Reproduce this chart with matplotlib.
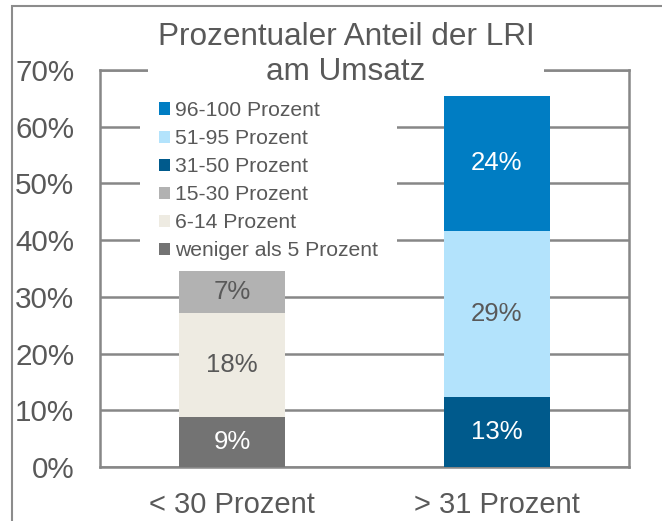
import matplotlib
matplotlib.use("Agg")
import matplotlib.pyplot as plt
from matplotlib.patches import Patch, Rectangle
from matplotlib.ticker import FuncFormatter, MultipleLocator

plt.rcParams['font.family'] = ['Liberation Sans', 'DejaVu Sans']

# ---- data ----
categories = ["< 30 Prozent", "> 31 Prozent"]
series_names = ["weniger als 5 Prozent", "6-14 Prozent", "15-30 Prozent",
                "31-50 Prozent", "51-95 Prozent", "96-100 Prozent"]
weniger_5 = [8.8, 0.0]
p6_14 = [18.3, 0.0]
p15_30 = [7.4, 0.0]
p31_50 = [0.0, 12.4]
p51_95 = [0.0, 29.3]
p96_100 = [0.0, 23.7]
series_values = [weniger_5, p6_14, p15_30, p31_50, p51_95, p96_100]
segment_labels = [["9%", ""], ["18%", ""], ["7%", ""],
                  ["", "13%"], ["", "29%"], ["", "24%"]]
title_text = "Prozentualer Anteil der LRI\nam Umsatz"

# ---- styles ----
colors = ["#737373", "#EEEBE2", "#B2B2B2", "#005A8C", "#B3E3FC", "#007DC3"]
label_colors = ["white", "#595959", "#595959", "white", "#595959", "white"]
text_grey = "#595959"
line_grey = "#878787"

W, H = 662, 521
fig = plt.figure(figsize=(W / 100, H / 100), dpi=100)
ax = fig.add_axes([100 / W, 1 - 467 / H, 529 / W, (467 - 70) / H])

x = list(range(len(categories)))
bottoms = [0.0] * len(categories)
for name, vals, col, labs, lcol in zip(series_names, series_values, colors,
                                       segment_labels, label_colors):
    ax.bar(x, vals, width=0.4, bottom=bottoms, color=col, label=name,
           zorder=3, linewidth=0)
    for i, (v, lab) in enumerate(zip(vals, labs)):
        if lab:
            ax.text(x[i], bottoms[i] + v / 2, lab, ha='center', va='center',
                    color=lcol, fontsize=18.5, zorder=4)
    bottoms = [b + v for b, v in zip(bottoms, vals)]

ax.set_xlim(-0.5, 1.5)
ax.set_ylim(0, 70)
ax.yaxis.set_major_locator(MultipleLocator(10))
ax.yaxis.set_major_formatter(FuncFormatter(lambda v, p: f"{v:.0f}%"))
ax.set_xticks(x)
ax.set_xticklabels(categories)
ax.tick_params(axis='y', length=0, pad=18.5, labelsize=21.3, labelcolor=text_grey)
ax.tick_params(axis='x', length=0, pad=17, labelsize=21, labelcolor=text_grey)
ax.yaxis.grid(True, color=line_grey, linewidth=1.8)
ax.set_axisbelow(True)
for s in ax.spines.values():
    s.set_color(line_grey)
    s.set_linewidth(1.8)

# title with white box covering the top frame line
ax.text(346 / W, 1 - 22 / H, title_text, transform=fig.transFigure,
        ha='center', va='top', fontsize=22.7, color=text_grey,
        linespacing=1.2, clip_on=False, zorder=2.6,
        bbox=dict(boxstyle='square,pad=0.3', facecolor='white',
                  edgecolor='none'))

handles = [Patch(facecolor=c, edgecolor='none') for c in colors][::-1]
labels = series_names[::-1]
leg = ax.legend(handles, labels, loc='upper left',
                bbox_to_anchor=(140 / W, 1 - 82 / H),
                bbox_transform=fig.transFigure, borderaxespad=0,
                fontsize=15.2, handlelength=0.5, handleheight=0.5,
                handletextpad=0.28, labelspacing=0.43, borderpad=0.9,
                frameon=True, fancybox=False, facecolor='white',
                edgecolor='none', framealpha=1)
for t in leg.get_texts():
    t.set_color(text_grey)
leg.set_zorder(2.7)

# outer border of the chart
fig.add_artist(Rectangle((12 / W, -0.05), 1.1, (1 - 6 / H) + 0.05,
                         transform=fig.transFigure, fill=False,
                         edgecolor='#8C8C8C', linewidth=1.5))

fig.savefig("out.png", dpi=100)
